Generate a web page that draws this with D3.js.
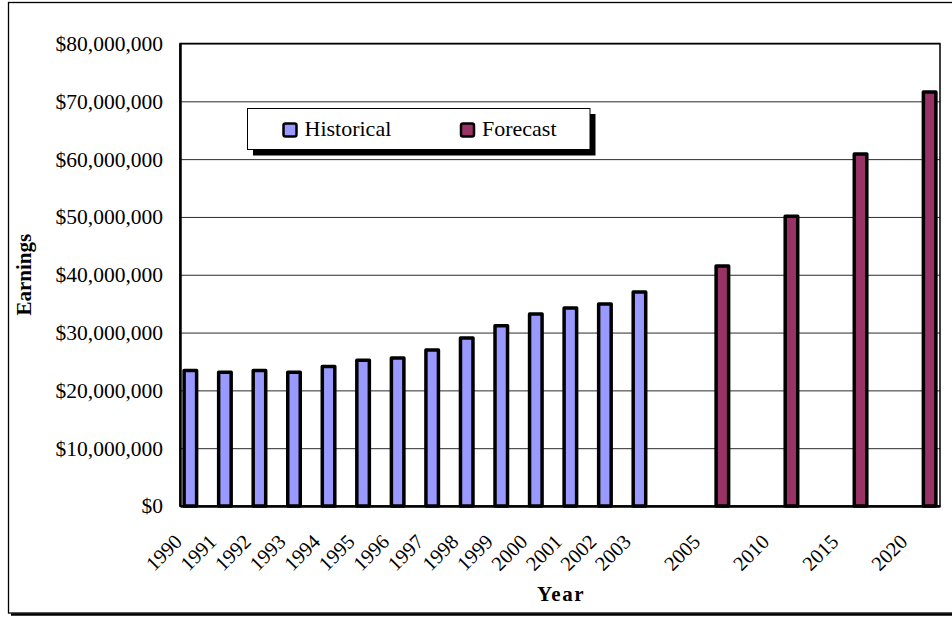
<!DOCTYPE html>
<html>
<head>
<meta charset="utf-8">
<script src="https://cdn.jsdelivr.net/npm/d3@7"></script>
<style>
  html, body { margin: 0; padding: 0; background: #fff; }
  svg { display: block; }
</style>
</head>
<body>
<svg id="chart" width="952" height="617"></svg>
<script>
// Category slots along the x axis (blank slots separate the forecast years)
const categories = ["1990","1991","1992","1993","1994","1995","1996","1997","1998","1999",
                    "2000","2001","2002","2003","","2005","","2010","","2015","","2020"];

// Earnings per slot, null where the series has no value
const historicalValues = [23450000, 23150000, 23450000, 23150000, 24150000, 25200000, 25600000,
                          27000000, 29050000, 31200000, 33200000, 34250000, 34950000, 37000000,
                          null, null, null, null, null, null, null, null];
const forecastValues   = [null, null, null, null, null, null, null, null, null, null, null, null,
                          null, null, null, 41500000, null, 50100000, null, 60900000, null, 71600000];

const seriesNames  = ["Historical", "Forecast"];
const seriesColors = ["#9999ff", "#993366"];
const yTicks = [0, 10000000, 20000000, 30000000, 40000000, 50000000, 60000000, 70000000, 80000000];

const FONT = "'Liberation Serif', 'Times New Roman', serif";
const svg = d3.select("#chart").attr("font-family", FONT);
const W = 952, H = 617;
const plot = { left: 180, right: 940, top: 43.5, bottom: 506 };

// Outer chart frame with a drop shadow along the bottom
svg.append("line").attr("x1", 11).attr("x2", W).attr("y1", 614.5).attr("y2", 614.5)
  .attr("stroke", "#000").attr("stroke-width", 2.5);
svg.append("rect").attr("x", 8.5).attr("y", 2.5).attr("width", 1000).attr("height", 610.5)
  .attr("fill", "none").attr("stroke", "#000").attr("stroke-width", 1.3);

const x = d3.scaleBand().domain(d3.range(categories.length))
  .range([plot.left, plot.right]).paddingInner(0).paddingOuter(0);
const xs = d3.scaleBand().domain(seriesNames).range([0, x.bandwidth()])
  .paddingInner(0).paddingOuter(0.25);
const y = d3.scaleLinear().domain([0, 80000000]).range([plot.bottom, plot.top]);

// Horizontal gridlines
svg.append("g").attr("transform", `translate(${plot.left},0)`)
  .call(d3.axisLeft(y).tickValues(yTicks).tickSize(-(plot.right - plot.left)).tickFormat(""))
  .call(g => g.select(".domain").remove())
  .call(g => g.selectAll(".tick line").attr("stroke", "#2b2b2b").attr("stroke-width", 1));

// Plot area border
svg.append("rect").attr("x", plot.left).attr("y", plot.top)
  .attr("width", plot.right - plot.left).attr("height", plot.bottom - plot.top)
  .attr("fill", "none").attr("stroke", "#000").attr("stroke-width", 1.5);

// Y axis labels
svg.append("g").attr("transform", `translate(${plot.left},0)`)
  .call(d3.axisLeft(y).tickValues(yTicks).tickSize(0).tickPadding(17)
    .tickFormat(v => "$" + d3.format(",")(v)))
  .call(g => g.select(".domain").attr("stroke", "#000").attr("stroke-width", 2.5))
  .call(g => g.selectAll("text").attr("font-family", FONT)
    .attr("font-size", 21.5).attr("fill", "#000"));

// Bars
const series = [
  { name: "Historical", values: historicalValues, color: seriesColors[0] },
  { name: "Forecast",   values: forecastValues,   color: seriesColors[1] }
];
const barW = xs.bandwidth() - 1.3;
series.forEach(s => {
  const pts = s.values.map((v, i) => ({ i, v })).filter(d => d.v != null);
  svg.append("g").selectAll("rect").data(pts).join("rect")
    .attr("x", d => x(d.i) + xs(s.name) + (xs.bandwidth() - barW) / 2)
    .attr("y", d => y(d.v))
    .attr("width", barW)
    .attr("height", d => y(0) - y(d.v))
    .attr("fill", s.color)
    .attr("stroke", "#000")
    .attr("stroke-width", 3.5)
    .attr("stroke-linejoin", "round");
});

// X axis with rotated labels
const xAxis = svg.append("g").attr("transform", `translate(0,${plot.bottom})`)
  .call(d3.axisBottom(x).tickSize(0).tickFormat(i => categories[i]));
xAxis.select(".domain").attr("stroke", "#000").attr("stroke-width", 2.5);
xAxis.selectAll("text")
  .attr("font-family", FONT).attr("font-size", 20.5).attr("fill", "#000")
  .attr("text-anchor", "end").attr("dy", null).attr("y", null)
  .attr("transform", "translate(-14,37) rotate(-45)");

// Axis titles
svg.append("text").attr("x", (plot.left + plot.right) / 2 + 1).attr("y", 601)
  .attr("text-anchor", "middle").attr("font-weight", "bold").attr("font-size", 21)
  .attr("font-family", FONT).attr("letter-spacing", 1.5).text("Year");
svg.append("text")
  .attr("transform", `translate(31,${(plot.top + plot.bottom) / 2}) rotate(-90)`)
  .attr("text-anchor", "middle").attr("font-weight", "bold").attr("font-size", 21)
  .attr("font-family", FONT).text("Earnings");

// Legend box with shadow
const legend = svg.append("g");
legend.append("rect").attr("x", 253).attr("y", 114).attr("width", 342.5).attr("height", 41.5)
  .attr("fill", "#000");
legend.append("rect").attr("x", 247.5).attr("y", 108.5).attr("width", 342.5).attr("height", 41)
  .attr("fill", "#fff").attr("stroke", "#000").attr("stroke-width", 1);
const legendX = [283.5, 461];
const item = legend.selectAll("g.item").data(series).join("g")
  .attr("class", "item")
  .attr("transform", (d, i) => `translate(${legendX[i]},123.5)`);
item.append("rect").attr("width", 13).attr("height", 13).attr("rx", 2)
  .attr("fill", d => d.color).attr("stroke", "#000").attr("stroke-width", 2.5);
item.append("text").attr("x", 21).attr("y", 12).attr("font-size", 22)
  .attr("font-family", FONT).attr("fill", "#000").text(d => d.name);
</script>
</body>
</html>
